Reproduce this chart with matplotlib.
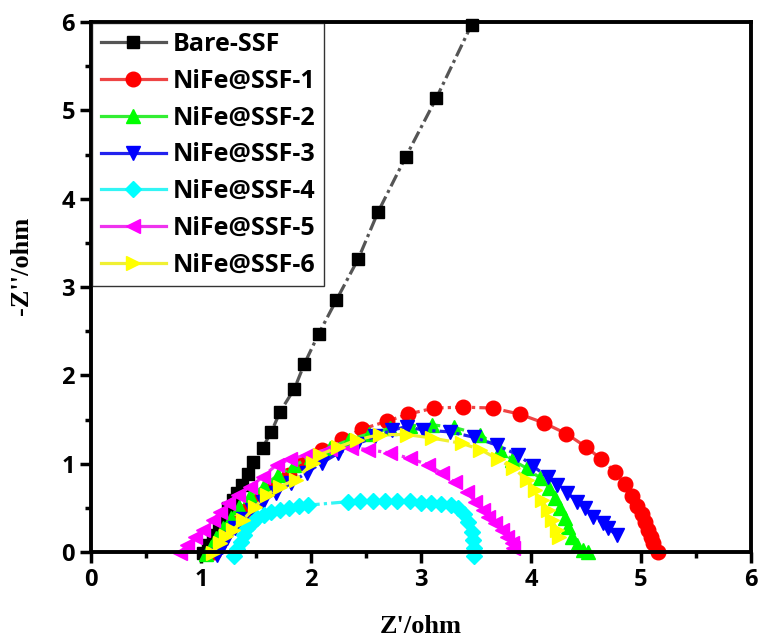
import matplotlib
matplotlib.use("Agg")
import matplotlib.pyplot as plt
from matplotlib.lines import Line2D

# Nyquist data (Z' , -Z'')
bare_x = [1.02, 1.06, 1.11, 1.16, 1.20, 1.25, 1.29, 1.33, 1.37, 1.43, 1.47, 1.56, 1.64, 1.72,
          1.85, 1.94, 2.07, 2.23, 2.43, 2.61, 2.86, 3.14, 3.46]
bare_y = [-0.01, 0.08, 0.19, 0.31, 0.40, 0.50, 0.59, 0.67, 0.76, 0.88, 1.02, 1.18, 1.36, 1.59,
          1.85, 2.13, 2.47, 2.85, 3.32, 3.85, 4.47, 5.14, 5.97]

s1_x = [1.12, 1.16, 1.22, 1.30, 1.40, 1.52, 1.66, 1.80, 1.92, 2.10, 2.28, 2.46, 2.69, 2.88,
        3.12, 3.38, 3.65, 3.90, 4.12, 4.32, 4.50, 4.64, 4.76, 4.85, 4.92, 4.96, 5.01, 5.04,
        5.06, 5.09, 5.11, 5.15]
s1_y = [0.00, 0.10, 0.21, 0.33, 0.46, 0.60, 0.74, 0.87, 1.01, 1.15, 1.28, 1.39, 1.48, 1.56,
        1.63, 1.64, 1.63, 1.56, 1.46, 1.34, 1.19, 1.05, 0.91, 0.77, 0.63, 0.52, 0.43, 0.34,
        0.25, 0.17, 0.10, 0.00]

s2_x = [1.05, 1.09, 1.14, 1.20, 1.27, 1.35, 1.45, 1.57, 1.70, 1.85, 2.00, 2.17, 2.35, 2.53,
        2.72, 2.90, 3.10, 3.30, 3.54, 3.72, 3.83, 3.96, 4.08, 4.16, 4.22, 4.26, 4.31, 4.34,
        4.37, 4.42, 4.47, 4.52]
s2_y = [-0.02, 0.06, 0.16, 0.27, 0.39, 0.51, 0.63, 0.75, 0.87, 0.98, 1.08, 1.18, 1.27, 1.34,
        1.40, 1.43, 1.44, 1.41, 1.33, 1.16, 1.04, 0.95, 0.84, 0.73, 0.61, 0.50, 0.39, 0.28,
        0.17, 0.08, 0.02, 0.00]

s3_x = [1.15, 1.19, 1.24, 1.31, 1.38, 1.46, 1.56, 1.68, 1.82, 1.96, 2.10, 2.25, 2.42, 2.58,
        2.74, 2.87, 3.02, 3.26, 3.48, 3.69, 3.88, 4.02, 4.15, 4.24, 4.33, 4.42, 4.49, 4.56,
        4.65, 4.70, 4.78]
s3_y = [-0.03, 0.06, 0.16, 0.27, 0.37, 0.47, 0.57, 0.67, 0.78, 0.90, 1.01, 1.12, 1.22, 1.31,
        1.38, 1.42, 1.38, 1.36, 1.30, 1.21, 1.10, 0.97, 0.85, 0.76, 0.67, 0.57, 0.50, 0.40,
        0.33, 0.27, 0.19]

s4_x = [1.30, 1.33, 1.36, 1.39, 1.42, 1.46, 1.51, 1.57, 1.64, 1.72, 1.80, 1.89, 1.97, 2.34,
        2.45, 2.56, 2.67, 2.78, 2.90, 3.00, 3.09, 3.18, 3.27, 3.34, 3.39, 3.43, 3.46, 3.47,
        3.48, 3.48]
s4_y = [-0.05, 0.03, 0.11, 0.19, 0.27, 0.33, 0.38, 0.42, 0.45, 0.48, 0.50, 0.52, 0.53, 0.57,
        0.58, 0.58, 0.58, 0.58, 0.58, 0.56, 0.55, 0.54, 0.53, 0.50, 0.43, 0.34, 0.23, 0.14,
        0.05, -0.05]

s5_x = [0.81, 0.87, 0.95, 1.02, 1.11, 1.17, 1.25, 1.34, 1.45, 1.56, 1.69, 1.81, 1.96, 2.17,
        2.36, 2.52, 2.72, 2.90, 3.06, 3.19, 3.31, 3.42, 3.49, 3.56, 3.61, 3.67, 3.74, 3.78,
        3.83, 3.84]
s5_y = [-0.01, 0.08, 0.17, 0.25, 0.36, 0.45, 0.56, 0.65, 0.74, 0.85, 0.99, 1.05, 1.10, 1.17,
        1.18, 1.16, 1.12, 1.06, 0.99, 0.89, 0.79, 0.68, 0.57, 0.48, 0.40, 0.33, 0.25, 0.17,
        0.10, 0.04]

s6_x = [1.11, 1.17, 1.23, 1.29, 1.38, 1.49, 1.60, 1.72, 1.86, 2.02, 2.08, 2.25, 2.42, 2.63,
        2.87, 3.10, 3.37, 3.54, 3.70, 3.84, 3.96, 4.04, 4.10, 4.15, 4.19, 4.24, 4.25]
s6_y = [-0.01, 0.10, 0.18, 0.25, 0.36, 0.51, 0.65, 0.74, 0.82, 1.01, 1.10, 1.19, 1.27, 1.33,
        1.33, 1.29, 1.23, 1.16, 1.05, 0.95, 0.82, 0.70, 0.59, 0.48, 0.36, 0.25, 0.17]

labels = ['Bare-SSF', 'NiFe@SSF-1', 'NiFe@SSF-2', 'NiFe@SSF-3',
          'NiFe@SSF-4', 'NiFe@SSF-5', 'NiFe@SSF-6']
xs = [bare_x, s1_x, s2_x, s3_x, s4_x, s5_x, s6_x]
ys = [bare_y, s1_y, s2_y, s3_y, s4_y, s5_y, s6_y]
colors = ['black', '#ff0000', '#00ff00', '#0000ff', '#00ffff', '#ff00ff', '#ffff00']
line_colors = ['#555555', '#ee4444', '#33ee33', '#2222ee', '#33f5f5', '#ee33ee', '#f0f033']
markers = ['s', 'o', '^', 'v', 'D', '<', '>']
msizes = [8, 10.5, 10.5, 10.5, 8.5, 10.5, 10.5]

plt.rcParams['font.family'] = 'Open Sans'
plt.rcParams['font.weight'] = 'bold'

fig = plt.figure(figsize=(7.58, 6.4), dpi=100)
ax = fig.add_axes([0.12, 0.1375, 0.8708, 0.8281])

handles = []
for x, y, c, lc, m, ms, lab in zip(xs, ys, colors, line_colors, markers, msizes, labels):
    ax.plot(x, y, color=lc, lw=2.3, dashes=(4, 1.3, 1, 1.3), clip_on=False)
    ax.plot(x, y, linestyle='none', marker=m, ms=ms, color=c, clip_on=False)
    handles.append(Line2D([], [], color=lc, lw=2.3, marker=m, ms=ms,
                          markerfacecolor=c, markeredgecolor=c))

ax.set_xlim(0, 6)
ax.set_ylim(0, 6)
ax.set_xticks(range(7))
ax.set_yticks(range(7))
ax.set_xticks([0.5 + i for i in range(6)], minor=True)
ax.set_yticks([0.5 + i for i in range(6)], minor=True)
ax.tick_params(which='major', direction='out', length=8, width=2.5, labelsize=17)
ax.tick_params(which='minor', direction='out', length=4.5, width=2.5)
for sp in ax.spines.values():
    sp.set_linewidth(2.8)

ax.set_xlabel("Z'/ohm", fontsize=19, fontweight='bold', family='Liberation Serif')
ax.set_ylabel("-Z''/ohm", fontsize=19, fontweight='bold', family='Liberation Serif')
ax.xaxis.set_label_coords(0.5, -0.118)
ax.yaxis.set_label_coords(-0.088, 0.54)

leg = ax.legend(handles, labels, loc='upper left', fontsize=18, frameon=True, fancybox=False,
                borderaxespad=0.05, handlelength=2.6, handletextpad=0.28, labelspacing=0.47,
                borderpad=0.35)
leg.get_frame().set_edgecolor('black')
leg.get_frame().set_linewidth(1.0)

fig.savefig('out.png', dpi=100)
